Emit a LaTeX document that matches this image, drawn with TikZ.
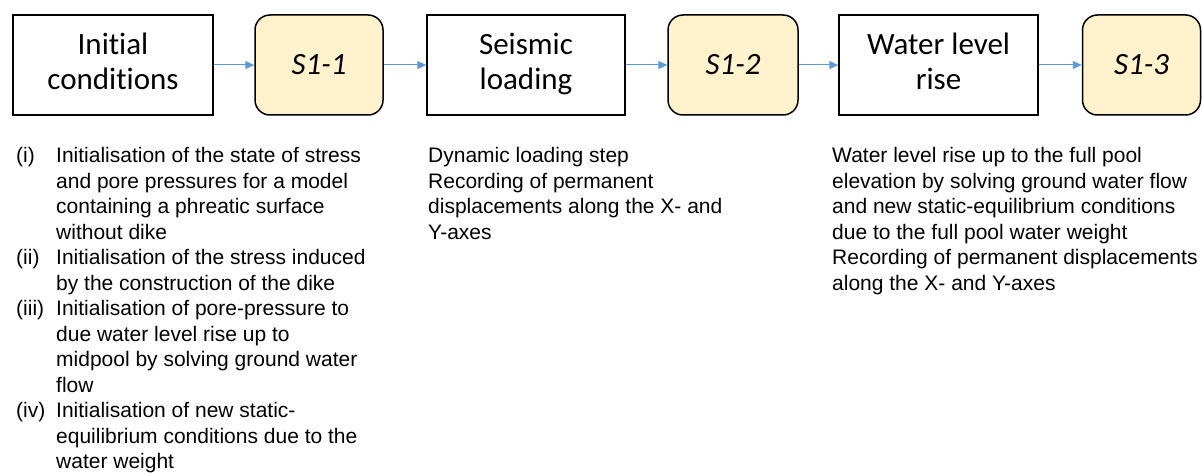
\documentclass[tikz,border=0pt]{standalone}
\usepackage{fontspec}
\setmainfont{Liberation Sans}
\newfontfamily\boxfont[Ligatures=CommonOff]{Carlito}
\usepackage{tikz}
\usetikzlibrary{arrows.meta}

\definecolor{stagefill}{HTML}{FFF2CC}
\definecolor{flowblue}{HTML}{5B9BD5}

\tikzset{
  phase/.style={draw, line width=1.5pt, minimum height=100pt, inner sep=0pt, align=center,
    font=\boxfont\fontsize{31}{35}\selectfont},
  stage/.style={phase, rounded corners=15pt, fill=stagefill,
    font=\boxfont\itshape\fontsize{31}{35}\selectfont},
  flow/.style={draw=flowblue, line width=1pt, -{Triangle[length=9pt,width=8pt]}},
  notes/.style={anchor=base west, inner sep=0pt, font=\fontsize{21}{25.5}\selectfont}
}

\begin{document}
\begin{tikzpicture}[x=1pt,y=-1pt]
            \useasboundingbox (0,0) rectangle (1202,473);
            % top row
            \node [phase, minimum width=200pt] (init) at (113,65) {\strut Initial\\\strut conditions};
            \node [stage, minimum width=128pt] (s11) at (319,65) {S1-1};
            \node [phase, minimum width=198pt] (seis) at (526,65) {\strut Seismic\\\strut loading};
            \node [stage, minimum width=130pt] (s12) at (733,65) {S1-2};
            \node [phase, minimum width=199pt] (rise) at (938.5,65) {\strut Water level\\\strut rise};
            \node [stage, minimum width=118pt] (s13) at (1141.5,65) {S1-3};
            \draw [flow] (init) -- (s11);
            \draw [flow] (s11) -- (seis);
            \draw [flow] (seis) -- (s12);
            \draw [flow] (s12) -- (rise);
            \draw [flow] (rise) -- (s13);
            % notes below
            \node [notes] (initnotes) at (16,163) {\begin{tabular}[t]{@{}p{40pt}@{}l@{}}
              (i) & Initialisation of the state of stress\\
                  & and pore pressures for a model\\
                  & containing a phreatic surface\\
                  & without dike\\
              (ii) & Initialisation of the stress induced\\
                   & by the construction of the dike\\
              (iii) & Initialisation of pore-pressure to\\
                    & due water level rise up to\\
                    & midpool by solving ground water\\
                    & flow\\
              (iv) & Initialisation of new static-\\
                   & equilibrium conditions due to the\\
                   & water weight
            \end{tabular}};
            \node [notes] (seisnotes) at (428,163) {\begin{tabular}[t]{@{}l@{}}
              Dynamic loading step\\
              Recording of permanent\\
              displacements along the X- and\\
              Y-axes
            \end{tabular}};
            \node [notes] (risenotes) at (832,163) {\begin{tabular}[t]{@{}l@{}}
              Water level rise up to the full pool\\
              elevation by solving ground water flow\\
              and new static-equilibrium conditions\\
              due to the full pool water weight\\
              Recording of permanent displacements\\
              along the X- and Y-axes
            \end{tabular}};
        \end{tikzpicture}
\end{document}
